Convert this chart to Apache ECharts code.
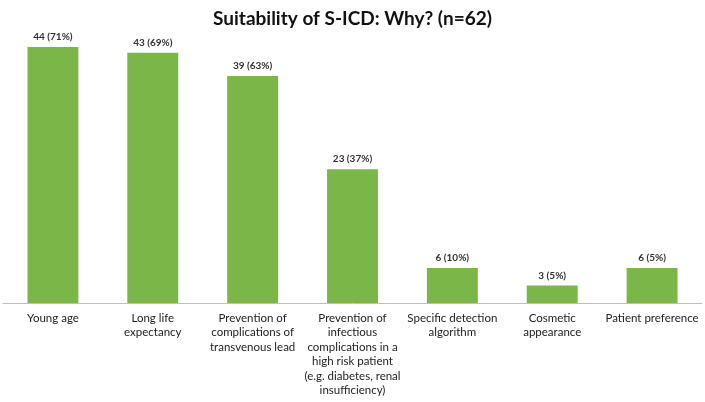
<!DOCTYPE html>
<html><head><meta charset="utf-8">
<script src="https://cdn.jsdelivr.net/npm/echarts@6/dist/echarts.min.js"></script>
<style>html,body{margin:0;padding:0;background:#fff}#c{width:705px;height:402px}</style>
</head><body><div id="c"></div>
<script>
var titleText = 'Suitability of S-ICD: Why? (n=62)';
var categories = [
  'Young age',
  'Long life\nexpectancy',
  'Prevention of\ncomplications of\ntransvenous lead',
  'Prevention of\ninfectious\ncomplications in a\nhigh risk patient\n(e.g. diabetes, renal\ninsufficiency)',
  'Specific detection\nalgorithm',
  'Cosmetic\nappearance',
  'Patient preference'
];
var counts = [44, 43, 39, 23, 6, 3, 6];
var percents = [71, 69, 63, 37, 10, 5, 5];

var chart = echarts.init(document.getElementById('c'), null, {renderer: 'canvas'});
chart.setOption({
  animation: false,
  backgroundColor: '#fff',
  title: {
    text: titleText, left: 'center', top: 4,
    textStyle: {fontFamily: 'Lato', fontWeight: 'bold', fontSize: 19, color: '#111'}
  },
  grid: {left: 3, right: 3, top: 12, bottom: 99},
  xAxis: {
    type: 'category', data: categories,
    axisLine: {lineStyle: {color: '#bfbfbf', width: 1}},
    axisTick: {show: false},
    axisLabel: {interval: 0, fontFamily: 'Lato', fontSize: 11.5, color: '#222', lineHeight: 14.5, margin: 8, align: 'center'}
  },
  yAxis: {type: 'value', min: 0, max: 50, show: false, splitLine: {show: false}},
  series: [{
    type: 'bar', data: counts, barWidth: '51%',
    itemStyle: {color: '#7ab648'},
    label: {
      show: true, position: 'top', distance: 5,
      fontFamily: 'Lato', fontWeight: 'bold', fontSize: 10, color: '#333',
      formatter: function (p) { return p.value + ' (' + percents[p.dataIndex] + '%)'; }
    }
  }]
});
</script></body></html>
